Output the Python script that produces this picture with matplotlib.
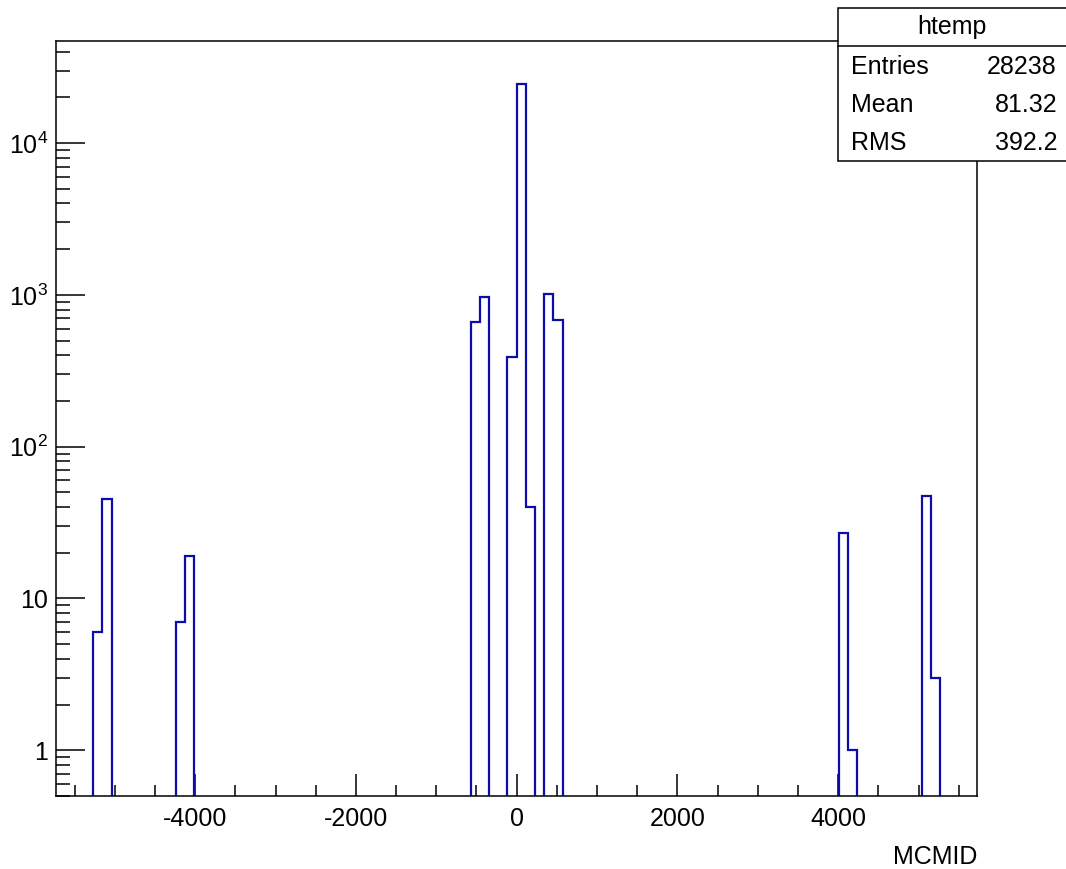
import numpy as np
import matplotlib
matplotlib.use("Agg")
import matplotlib.pyplot as plt
from matplotlib.patches import Rectangle
from matplotlib.lines import Line2D
from matplotlib.ticker import FixedLocator, FixedFormatter, MultipleLocator, NullFormatter

plt.rcParams['font.family'] = ['Liberation Sans', 'DejaVu Sans']
plt.rcParams['axes.unicode_minus'] = False

# histogram binning (ROOT htemp, 100 bins)
nbins = 100
xmin, xmax = -5727., 5727.

# filled bins: bin centres and contents
bin_centres = [-5211, -5097, -4180, -4066, -516, -401, -57, 57, 172,
               401, 516, 4066, 4180, 5097, 5211]
bin_counts = [6, 45, 7, 19, 664, 970, 391, 24320, 40,
              1016, 685, 27, 1, 47, 3]

stats_title = "htemp"
stats_rows = [("Entries", "28238"), ("Mean", "81.32"), ("RMS", "392.2")]

W, H = 1066, 869
fig = plt.figure(figsize=(W / 100, H / 100), dpi=100)
ax = fig.add_axes([56.3 / W, (H - 796) / H, (977 - 56.3) / W, (796 - 41) / H])

edges = np.linspace(xmin, xmax, nbins + 1)
ax.hist(bin_centres, bins=edges, weights=bin_counts, histtype='step',
        color='#0c0cae', lw=1.6, log=True)

ax.set_xlim(xmin, xmax)
ax.set_yscale('log')
ax.set_ylim(0.5, 4.7e4)

# x ticks
ax.xaxis.set_major_locator(MultipleLocator(2000))
ax.xaxis.set_minor_locator(MultipleLocator(500))
ax.tick_params(axis='x', which='major', direction='in', length=16, width=1.1,
               labelsize=18, pad=8, top=False)
ax.tick_params(axis='x', which='minor', direction='in', length=8, width=1.1, top=False)

# y ticks
majors = [1, 10, 100, 1000, 10000]
ax.yaxis.set_major_locator(FixedLocator(majors))
ax.yaxis.set_major_formatter(FixedFormatter(
    ['1', '10', r'$\mathregular{10^{2}}$', r'$\mathregular{10^{3}}$', r'$\mathregular{10^{4}}$']))
minors = [m * 10 ** d for d in range(-1, 5) for m in range(2, 10)]
ax.yaxis.set_minor_locator(FixedLocator(minors))
ax.yaxis.set_minor_formatter(NullFormatter())
ax.tick_params(axis='y', which='major', direction='in', length=21, width=1.1,
               labelsize=18, pad=6, right=False)
ax.tick_params(axis='y', which='minor', direction='in', length=10, width=1.1, right=False)

for s in ax.spines.values():
    s.set_linewidth(1.1)

ax.set_xlabel("MCMID", loc='right', fontsize=18, labelpad=10)

# stats box
bx0, bx1, by0, by1, bsep = 838, 1070, 8, 160.7, 46
fig.add_artist(Rectangle((bx0 / W, 1 - by1 / H), (bx1 - bx0) / W, (by1 - by0) / H,
                         transform=fig.transFigure, facecolor='white',
                         edgecolor='black', lw=1.1, zorder=5))
fig.add_artist(Line2D([bx0 / W, 1], [1 - bsep / H] * 2, transform=fig.transFigure,
                      color='black', lw=1.1, zorder=6))
fig.text((bx0 + 1066) / 2 / W, 1 - 27 / H, stats_title, ha='center', va='center',
         fontsize=18, zorder=7)
for i, (k, v) in enumerate(stats_rows):
    yy = 1 - (67 + 38 * i) / H
    fig.text(851 / W, yy, k, ha='left', va='center', fontsize=18, zorder=7)
    fig.text(1057 / W, yy, v, ha='right', va='center', fontsize=18, zorder=7)

fig.savefig("out.png", dpi=100)
